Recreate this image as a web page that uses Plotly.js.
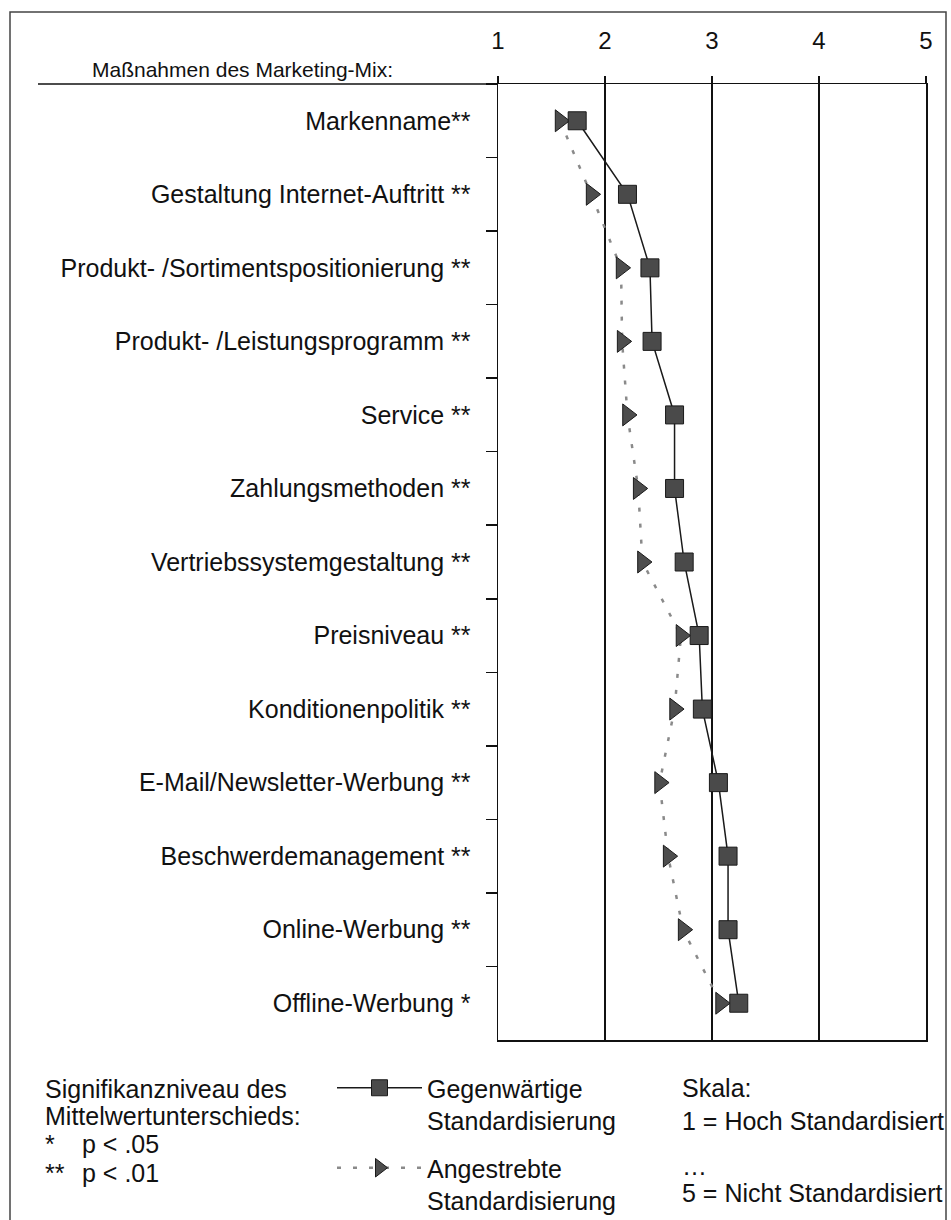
<!DOCTYPE html>
<html>
<head>
<meta charset="utf-8">
<script src="https://cdn.plot.ly/plotly-3.0.1.min.js"></script>
<style>
  html, body { margin: 0; padding: 0; background: #ffffff; }
  #chart { width: 951px; height: 1220px; }
</style>
</head>
<body>
<div id="chart"></div>
<script>
// ---- data ----
const categories = [
  "Markenname**",
  "Gestaltung Internet-Auftritt **",
  "Produkt- /Sortimentspositionierung **",
  "Produkt- /Leistungsprogramm **",
  "Service **",
  "Zahlungsmethoden **",
  "Vertriebssystemgestaltung **",
  "Preisniveau **",
  "Konditionenpolitik **",
  "E-Mail/Newsletter-Werbung **",
  "Beschwerdemanagement **",
  "Online-Werbung **",
  "Offline-Werbung *"
];
const currentValues = [1.74, 2.21, 2.42, 2.44, 2.65, 2.65, 2.74, 2.88, 2.91, 3.06, 3.15, 3.15, 3.25];
const targetValues  = [1.58, 1.87, 2.15, 2.16, 2.21, 2.31, 2.35, 2.71, 2.65, 2.51, 2.59, 2.73, 3.08];
const scaleTicks = [1, 2, 3, 4, 5];
const seriesNames = ["Gegenwärtige<br>Standardisierung", "Angestrebte<br>Standardisierung"];
const axisHeading = "Maßnahmen des Marketing-Mix:";
const noteLines = ["Signifikanzniveau des", "Mittelwertunterschieds:"];
const sigSymbols = ["*", "**"];
const sigLevels = ["p < .05", "p < .01"];
const scaleLines = ["Skala:", "1 = Hoch Standardisiert", "…", "5 = Nicht Standardisiert"];

// ---- geometry helpers (pixel -> paper) ----
const W = 951, H = 1220;
const L = 498, R = 926, T = 84, B = 1040;
const px = x => (x - L) / (R - L);
const py = y => (B - y) / (B - T);
const FONT = "Liberation Sans, Arial, Helvetica, sans-serif";
const INK = "#111111";

const traces = [
  {
    type: "scatter",
    mode: "lines+markers",
    name: seriesNames[1],
    x: targetValues,
    y: categories,
    legendgroup: "b",
    legendrank: 2,
    line: { color: "#8a8a8a", width: 2.5, dash: "4px,12px" },
    marker: { symbol: "triangle-right", size: 19, color: "#4d4d4d",
              line: { color: "#1a1a1a", width: 1 } },
    cliponaxis: false
  },
  {
    type: "scatter",
    mode: "lines+markers",
    name: seriesNames[0],
    x: currentValues,
    y: categories,
    legendgroup: "a",
    legendrank: 1,
    line: { color: "#1a1a1a", width: 1.5 },
    marker: { symbol: "square", size: 18, color: "#4a4a4a",
              line: { color: "#1a1a1a", width: 1 } },
    cliponaxis: false
  }
];

const annotations = [];
function addText(text, xPix, baseline, size, anchor) {
  annotations.push({
    xref: "paper", yref: "paper",
    x: px(xPix), y: py(baseline - 0.3465 * size),
    xanchor: anchor, yanchor: "middle",
    text: text, showarrow: false,
    font: { family: FONT, size: size, color: INK }
  });
}
addText(axisHeading, 395, 77, 21, "right");
addText(noteLines[0], 43, 1098, 25, "left");
addText(noteLines[1], 43, 1125, 25, "left");
addText(sigSymbols[0], 43, 1153, 25, "left");
addText(sigLevels[0], 80, 1153, 25, "left");
addText(sigSymbols[1], 43, 1182, 25, "left");
addText(sigLevels[1], 80, 1182, 25, "left");
addText(scaleLines[0], 680, 1097, 25, "left");
addText(scaleLines[1], 680, 1130, 25, "left");
addText(scaleLines[2], 680, 1175, 25, "left");
addText(scaleLines[3], 680, 1202, 25, "left");

const shapes = [
  // outer frame
  { type: "rect", xref: "paper", yref: "paper",
    x0: px(10), x1: px(946), y0: py(1232), y1: py(12),
    line: { color: "#444444", width: 1.5 }, fillcolor: "rgba(0,0,0,0)", layer: "below" },
  // underline of heading, continuing the top frame line
  { type: "line", xref: "paper", yref: "paper",
    x0: px(38), x1: 0, y0: 1, y1: 1,
    line: { color: INK, width: 1.5 } }
];

const layout = {
  width: W, height: H,
  margin: { l: L, r: W - R, t: T, b: H - B, pad: 0, autoexpand: false },
  paper_bgcolor: "#ffffff",
  plot_bgcolor: "#ffffff",
  font: { family: FONT, color: INK, size: 24 },
  showlegend: true,
  legend: {
    x: px(332), y: py(1065), xanchor: "left", yanchor: "top",
    orientation: "v", valign: "top",
    font: { family: FONT, size: 25, color: INK },
    bgcolor: "rgba(0,0,0,0)", borderwidth: 0,
    itemwidth: 85, tracegroupgap: 12, traceorder: "grouped"
  },
  xaxis: {
    side: "top",
    range: [1, 5],
    tickvals: scaleTicks,
    ticktext: scaleTicks.map(String),
    ticks: "outside", ticklen: 7, tickwidth: 1.5, tickcolor: INK,
    ticklabelstandoff: 17,
    tickfont: { family: FONT, size: 24, color: INK },
    showgrid: true, gridcolor: INK, gridwidth: 1.5,
    showline: true, mirror: true, linecolor: INK, linewidth: 1.5,
    zeroline: false, fixedrange: true
  },
  yaxis: {
    type: "category",
    categoryorder: "array",
    categoryarray: categories,
    range: [categories.length - 0.5, -0.5],
    tickson: "boundaries",
    ticks: "outside", ticklen: 11, tickwidth: 1.5, tickcolor: INK,
    ticklabelstandoff: 21,
    tickfont: { family: FONT, size: 25, color: INK },
    showgrid: false,
    showline: true, mirror: true, linecolor: INK, linewidth: 1.5,
    zeroline: false, fixedrange: true
  },
  annotations: annotations,
  shapes: shapes
};

Plotly.newPlot("chart", traces, layout, { displayModeBar: false, staticPlot: true });
</script>
</body>
</html>
